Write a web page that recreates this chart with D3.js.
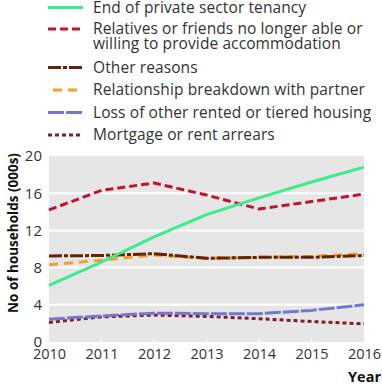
<!DOCTYPE html>
<html>
<head>
<meta charset="utf-8">
<script src="https://cdn.jsdelivr.net/npm/d3@7"></script>
<style>
body { margin: 0; background: #fff; }
text { font-family: "Open Sans", "Noto Sans", sans-serif; fill: #333; }
</style>
</head>
<body>
<div id="chart"></div>
<script>
// values (thousands of households)
const years = [2010, 2011, 2012, 2013, 2014, 2015, 2016];
const endPrivate   = [6.1, 8.6, 11.3, 13.7, 15.5, 17.2, 18.8];
const relatives    = [14.2, 16.3, 17.1, 15.8, 14.3, 15.1, 15.9];
const otherReasons = [9.25, 9.3, 9.5, 9.0, 9.1, 9.1, 9.3];
const relationship = [8.3, 8.8, 9.35, 9.0, 9.1, 9.2, 9.5];
const lossRented   = [2.45, 2.8, 3.1, 3.05, 3.05, 3.4, 4.0];
const mortgage     = [2.1, 2.7, 2.9, 2.75, 2.5, 2.2, 1.95];
const yTicks = [0, 4, 8, 12, 16, 20];

const series = [
	{name: ["End of private sector tenancy"], values: endPrivate, color: "#3deb8c", dash: null},
	{name: ["Relatives or friends no longer able or", "willing to provide accommodation"], values: relatives, color: "#c3132c", dash: "8,4"},
	{name: ["Other reasons"], values: otherReasons, color: "#642208", dash: "13,2,4,2"},
	{name: ["Relationship breakdown with partner"], values: relationship, color: "#f0a324", dash: "9,6"},
	{name: ["Loss of other rented or tiered housing"], values: lossRented, color: "#7676cc", dash: "16,2"},
	{name: ["Mortgage or rent arrears"], values: mortgage, color: "#7a1f30", dash: "4,3"}
];

const width = 382, height = 387;
const margin = {top: 156, right: 18, bottom: 45, left: 49};

const svg = d3.select("#chart").append("svg")
	.attr("width", width)
	.attr("height", height);

const x = d3.scaleLinear().domain([2010, 2016]).range([margin.left, width - margin.right]);
const y = d3.scaleLinear().domain([0, 20]).range([height - margin.bottom, margin.top]);

// plot background
svg.append("rect")
	.attr("x", x(2010)).attr("y", y(20))
	.attr("width", x(2016) - x(2010)).attr("height", y(0) - y(20))
	.attr("fill", "#e6e6e6");

// gridlines
svg.append("g").selectAll("line")
	.data(yTicks.filter(d => d > 0 && d < 20))
	.enter().append("line")
		.attr("x1", x(2010)).attr("x2", x(2016))
		.attr("y1", d => y(d)).attr("y2", d => y(d))
		.attr("stroke", "#fff").attr("stroke-width", 2);

// little white ticks at the bottom edge
svg.append("g").selectAll("line")
	.data(years.slice(1, -1))
	.enter().append("line")
		.attr("x1", d => x(d)).attr("x2", d => x(d))
		.attr("y1", y(0)).attr("y2", y(0) - 3)
		.attr("stroke", "#fff").attr("stroke-width", 1.5);

// y axis
const yAxis = svg.append("g")
	.attr("transform", "translate(" + (x(2010) - 4) + ",0)")
	.call(d3.axisLeft(y).tickValues(yTicks).tickSize(0).tickFormat(d3.format("d")));
yAxis.select(".domain").remove();
yAxis.selectAll("text").attr("font-size", 15).attr("fill", "#333").attr("font-family", "Open Sans");

// x axis
const xAxis = svg.append("g")
	.attr("transform", "translate(0," + y(0) + ")")
	.call(d3.axisBottom(x).tickValues(years).tickSize(0).tickPadding(7).tickFormat(d3.format("d")));
xAxis.select(".domain").remove();
xAxis.selectAll("text").attr("font-size", 14.5).attr("fill", "#333").attr("font-family", "Open Sans");

// axis titles
svg.append("text")
	.attr("transform", "translate(18,233) rotate(-90)")
	.attr("text-anchor", "middle")
	.attr("font-size", 13.5).attr("font-weight", "bold")
	.style("fill", "#111")
	.text("No of households (000s)");

svg.append("text")
	.attr("x", 381).attr("y", 382)
	.attr("text-anchor", "end")
	.attr("font-size", 14.5).attr("font-weight", "bold")
	.style("fill", "#111")
	.text("Year");

// lines
const line = d3.line()
	.x((d, i) => x(years[i]))
	.y(d => y(d));

const drawOrder = [5, 4, 3, 2, 1, 0];
svg.append("g").selectAll("path")
	.data(drawOrder.map(i => series[i]))
	.enter().append("path")
		.attr("d", d => line(d.values))
		.attr("fill", "none")
		.attr("stroke", d => d.color)
		.attr("stroke-width", 3)
		.attr("stroke-linejoin", "round")
		.attr("stroke-dasharray", d => d.dash);

// legend
const legendRows = [7.5, 29, 67.5, 90, 112.5, 135];
const legend = svg.append("g").selectAll("g")
	.data(series)
	.enter().append("g")
		.attr("transform", (d, i) => "translate(0," + legendRows[i] + ")");

legend.append("line")
	.attr("x1", (d, i) => i === 3 ? 53 : 48).attr("x2", 83)
	.attr("y1", 0).attr("y2", 0)
	.attr("stroke", d => d.color)
	.attr("stroke-width", 3)
	.attr("stroke-dasharray", d => d.dash);

legend.selectAll("text")
	.data(d => d.name)
	.enter().append("text")
		.attr("x", 93)
		.attr("y", (d, j) => j * 15)
		.attr("dy", "0.35em")
		.attr("font-size", 15.5)
		.attr("letter-spacing", 0.1)
		.text(d => d);
</script>
</body>
</html>
